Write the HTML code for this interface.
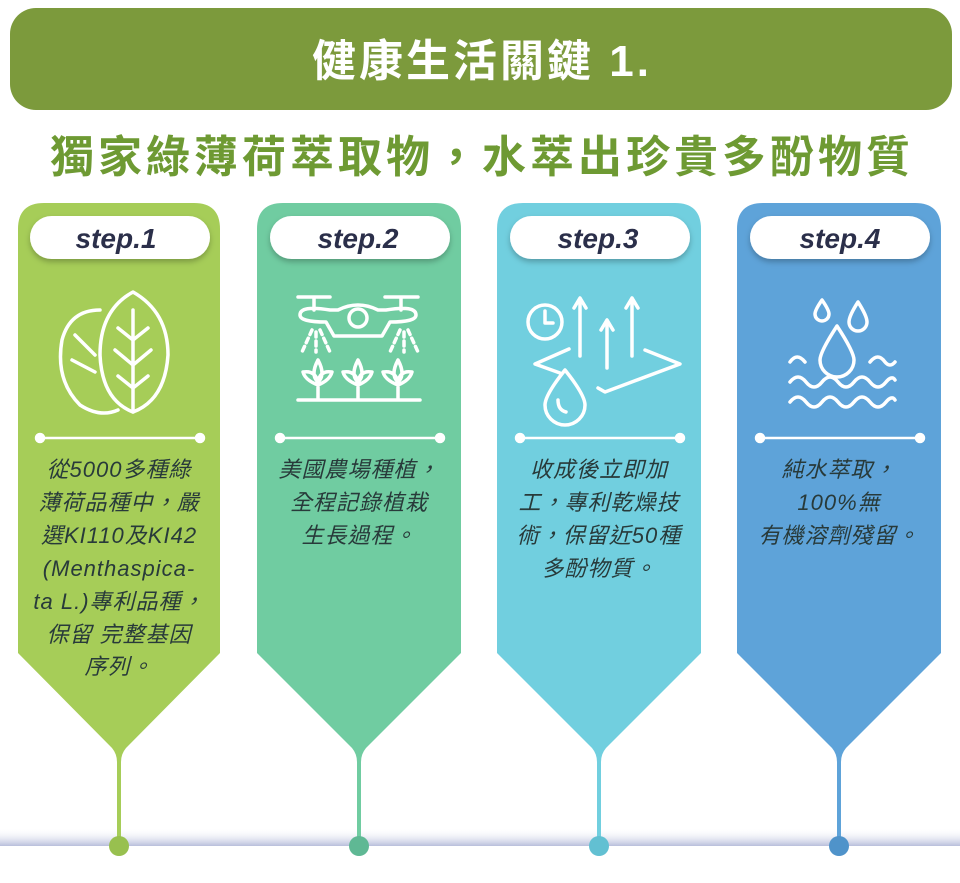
<!DOCTYPE html>
<html><head><meta charset="utf-8"><style>
body{margin:0;background:#fff;width:960px;height:878px;overflow:hidden;font-family:"Liberation Sans","Noto Sans CJK TC",sans-serif}
</style></head><body>
<svg width="960" height="878" viewBox="0 0 960 878" xmlns="http://www.w3.org/2000/svg" font-family="'Liberation Sans','Noto Sans CJK TC',sans-serif">
<defs>
<linearGradient id="band" x1="0" y1="0" x2="0" y2="1"><stop offset="0" stop-color="#fff" stop-opacity="0"/><stop offset="1" stop-color="#b8bedb"/></linearGradient>
<filter id="sh" x="-10%" y="-30%" width="120%" height="170%"><feDropShadow dx="0" dy="3" stdDeviation="3" flood-color="#000" flood-opacity="0.25"/></filter>
</defs>
<rect x="10" y="8" width="942" height="102" rx="26" fill="#7c9a3c"/>
<text x="482" y="76" text-anchor="middle" font-size="44" font-weight="bold" fill="#fff" letter-spacing="3">健康生活關鍵 1.</text>
<text x="482" y="172" text-anchor="middle" font-size="44" font-weight="bold" fill="#6e9a33" letter-spacing="4">獨家綠薄荷萃取物，水萃出珍貴多酚物質</text>
<rect x="0" y="828" width="960" height="18" fill="url(#band)"/>

<g id="cards">
<path d="M18,229 Q18,203 44,203 L194,203 Q220,203 220,229 L220,653 L126,748 Q121,754 121,762 L121,846 L117,846 L117,762 Q117,754 112,748 L18,653 Z" fill="#a6cd58"/>
<circle cx="119" cy="846" r="10" fill="#98c04f"/>
<path d="M257,229 Q257,203 283,203 L435,203 Q461,203 461,229 L461,653 L366,748 Q361,754 361,762 L361,846 L357,846 L357,762 Q357,754 352,748 L257,653 Z" fill="#70cca1"/>
<circle cx="359" cy="846" r="10" fill="#5fb894"/>
<path d="M497,229 Q497,203 523,203 L675,203 Q701,203 701,229 L701,653 L606,748 Q601,754 601,762 L601,846 L597,846 L597,762 Q597,754 592,748 L497,653 Z" fill="#71cfdf"/>
<circle cx="599" cy="846" r="10" fill="#62c0d2"/>
<path d="M737,229 Q737,203 763,203 L915,203 Q941,203 941,229 L941,653 L846,748 Q841,754 841,762 L841,846 L837,846 L837,762 Q837,754 832,748 L737,653 Z" fill="#5ea3d9"/>
<circle cx="839" cy="846" r="10" fill="#4f93ca"/>
</g>

<g filter="url(#sh)" fill="#fff">
<rect x="30" y="216" width="180" height="43" rx="21.5"/>
<rect x="270" y="216" width="180" height="43" rx="21.5"/>
<rect x="510" y="216" width="180" height="43" rx="21.5"/>
<rect x="750" y="216" width="180" height="43" rx="21.5"/>
</g>
<g font-size="28" font-weight="bold" font-style="italic" fill="#2b2f4a" text-anchor="middle">
<text x="116" y="248">step.1</text>
<text x="358" y="248">step.2</text>
<text x="598" y="248">step.3</text>
<text x="840" y="248">step.4</text>
</g>

<g stroke="#fff" stroke-width="2.5" fill="#fff">
<line x1="40" y1="438" x2="200" y2="438"/><circle cx="40" cy="438" r="4"/><circle cx="200" cy="438" r="4"/>
<line x1="280" y1="438" x2="440" y2="438"/><circle cx="280" cy="438" r="4"/><circle cx="440" cy="438" r="4"/>
<line x1="520" y1="438" x2="680" y2="438"/><circle cx="520" cy="438" r="4"/><circle cx="680" cy="438" r="4"/>
<line x1="760" y1="438" x2="920" y2="438"/><circle cx="760" cy="438" r="4"/><circle cx="920" cy="438" r="4"/>
</g>

<g stroke="#fff" stroke-width="3.5" fill="none" stroke-linecap="round" stroke-linejoin="round">
<path d="M100,310 Q70,310 62,340 Q55,380 80,405 Q100,418 118,410"/>
<path d="M133,292 Q100,310 100,355 Q102,400 133,412 Q165,400 168,355 Q168,312 133,292 Z"/>
<path d="M133,310 L133,412 M133,340 L118,328 M133,340 L148,328 M133,365 L115,350 M133,365 L151,350 M133,388 L118,376 M133,388 L148,376"/>
<path d="M75,335 L95,355 M72,360 L95,372"/>
<path d="M298,297 L330,297 M314,297 L314,310 M385,297 L418,297 M401,297 L401,310 M300,315 Q300,305 330,310 L338,310 Q358,300 378,310 L386,310 Q416,305 416,315 Q416,322 390,322 L382,336 L334,336 L326,322 Q300,322 300,315 Z"/>
<circle cx="358" cy="318" r="9"/>
<path d="M312,330 L302,352 M316,332 L316,352 M320,330 L330,352 M400,330 L390,352 M404,332 L404,352 M408,330 L418,352" stroke-dasharray="5,4"/>
<path d="M298,400 L420,400 M318,398 L318,385 Q305,380 303,372 Q315,370 318,382 Q320,370 332,372 Q330,380 318,385 M318,382 Q310,375 318,360 Q326,375 318,382 M358,398 L358,385 Q345,380 343,372 Q355,370 358,382 Q360,370 372,372 Q370,380 358,385 M358,382 Q350,375 358,360 Q366,375 358,382 M398,398 L398,385 Q385,380 383,372 Q395,370 398,382 Q400,370 412,372 Q410,380 398,385 M398,382 Q390,375 398,360 Q406,375 398,382"/>
<circle cx="545" cy="322" r="17"/><path d="M545,311 L545,323 L553,323"/>
<path d="M569,349 L535,364 L560,373 M645,350 L680,364 L605,392 L598,388"/>
<path d="M580,356 L580,300 M574,308 L580,298 L586,308 M607,368 L607,322 M601,330 L607,320 M607,320 L613,330 M632,356 L632,298 M626,308 L632,298 L638,308"/>
<path d="M565,370 Q545,395 545,405 A20,20 0 0 0 585,405 Q585,395 565,370 Z"/>
<path d="M558,400 Q558,410 566,412"/>
<path d="M822,300 Q815,310 815,314 A7,7 0 0 0 829,314 Q829,310 822,300 Z"/>
<path d="M858,302 Q849,316 849,322 A9,9 0 0 0 867,322 Q867,316 858,302 Z"/>
<path d="M837,326 Q820,352 820,360 A17,17 0 0 0 854,360 Q854,352 837,326 Z"/>
<path d="M790,362 Q797,352 805,362 M870,362 Q878,352 885,362 Q890,368 895,362"/>
<path d="M790,382 Q798,372 806,382 Q814,392 822,382 Q830,372 838,382 Q846,392 854,382 Q862,372 870,382 Q878,392 886,382 Q892,375 895,380"/>
<path d="M790,402 Q798,392 806,402 Q814,412 822,402 Q830,392 838,402 Q846,412 854,402 Q862,392 870,402 Q878,412 886,402 Q892,395 895,400"/>
</g>

<g font-size="22" fill="#283a3a" text-anchor="middle" font-style="italic" letter-spacing="1">
<text x="119" y="477">從5000多種綠</text>
<text x="119" y="510">薄荷品種中，嚴</text>
<text x="119" y="543">選KI110及KI42</text>
<text x="119" y="576">(Menthaspica-</text>
<text x="119" y="609">ta L.)專利品種，</text>
<text x="119" y="642">保留 完整基因</text>
<text x="119" y="674">序列。</text>
<text x="359" y="477">美國農場種植，</text>
<text x="359" y="510">全程記錄植栽</text>
<text x="359" y="543">生長過程。</text>
<text x="599" y="477">收成後立即加</text>
<text x="599" y="510">工，專利乾燥技</text>
<text x="599" y="543">術，保留近50種</text>
<text x="599" y="576">多酚物質。</text>
<text x="839" y="477">純水萃取，</text>
<text x="839" y="510">100%無</text>
<text x="839" y="543">有機溶劑殘留。</text>
</g>
</svg>
</body></html>
